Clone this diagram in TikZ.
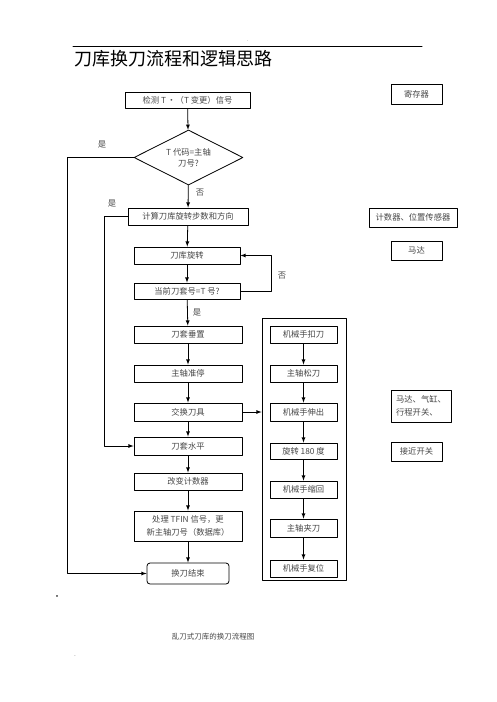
\documentclass[tikz,border=0pt]{standalone}
\usepackage{fontspec}
\setmainfont{Noto Sans CJK SC}
\usetikzlibrary{shapes.geometric}

\definecolor{textgray}{RGB}{70,70,70}

\tikzset{
  box/.style={draw,line width=0.8pt,minimum height=17,inner sep=1pt,
    font=\fontsize{8.3}{11}\selectfont,text=textgray},
  sidebox/.style={box,minimum width=51},
  lbl/.style={font=\fontsize{8.3}{10}\selectfont,text=textgray,inner sep=0pt},
  flow/.style={-latex,line width=0.8pt},
}

\begin{document}
\begin{tikzpicture}[x=1pt,y=-1pt,line cap=round,line join=round]
        \useasboundingbox (0,0) rectangle (496,702);

        % Titel
        \draw[line width=1pt] (73,46) -- (422,46);
        \node[inner sep=0pt] (mark) at (248,41) {\fontsize{4}{4}\selectfont .};
        \node[anchor=west,inner sep=0pt,font=\fontsize{18}{20}\selectfont] (title) at (74,59) {刀库换刀流程和逻辑思路};

        % Hauptspalte
        \node[box,minimum width=125,minimum height=16] (det) at (187.5,100) {检测 T\,•（T 变更）信号};
        \node[diamond,draw,line width=0.8pt,aspect=2,inner sep=0pt,minimum width=109,minimum height=55,
              align=center,font=\fontsize{8.3}{11}\selectfont,text=textgray] (dia) at (188.5,157.5) {T 代码=主轴\\刀号?};
        \node[box,minimum width=120] (calc) at (188,216.5) {计算刀库旋转步数和方向};
        \node[box,minimum width=106] (rot) at (187,255.5) {刀库旋转};
        \node[box,minimum width=106,minimum height=16] (cur) at (187,291) {当前刀套号=T 号?};
        \node[box,minimum width=108] (vert) at (188,334.5) {刀套垂置};
        \node[box,minimum width=108] (stop) at (188,373.5) {主轴准停};
        \node[box,minimum width=108,minimum height=18] (swap) at (188,412) {交换刀具};
        \node[box,minimum width=108,minimum height=18] (horz) at (188,446) {刀套水平};
        \node[box,minimum width=108] (cnt) at (188,481.5) {改变计数器};
        \node[box,minimum width=108,minimum height=30,align=center,font=\fontsize{8.3}{13}\selectfont] (tfin) at (188,526) {处理 TFIN 信号，更\\新主轴刀号（数据库）};
        \node[box,minimum width=82,minimum height=21,rounded corners=3pt] (endb) at (188,573.5) {换刀结束};

        % Greiferspalte
        \node[draw,line width=0.8pt,minimum width=84,minimum height=262,inner sep=0pt] (cont) at (304,449) {};
        \node[box,minimum width=67] (grab) at (303.5,334.5) {机械手扣刀};
        \node[box,minimum width=67] (loose) at (303.5,373.5) {主轴松刀};
        \node[box,minimum width=67,minimum height=18] (ext) at (303.5,412) {机械手伸出};
        \node[box,minimum width=67,minimum height=16] (turn) at (303.5,451) {旋转 180 度};
        \node[box,minimum width=67] (retr) at (303.5,489.5) {机械手缩回};
        \node[box,minimum width=67,minimum height=18] (clamp) at (303.5,528) {主轴夹刀};
        \node[box,minimum width=67] (reset) at (303.5,568.5) {机械手复位};

        % Bauteile rechts
        \node[sidebox,minimum height=20] (reg) at (416.5,94) {寄存器};
        \node[box,minimum width=88,minimum height=19] (sens) at (413,217.5) {计数器、位置传感器};
        \node[sidebox,minimum height=19] (motor) at (416.5,250.5) {马达};
        \node[box,minimum width=60,minimum height=32,align=left,font=\fontsize{8.3}{13}\selectfont] (act) at (421,406) {马达、气缸、\\行程开关、};
        \node[sidebox,minimum height=19] (prox) at (416.5,451.5) {接近开关};

        % Pfeile
        \draw[flow] (det) -- (dia);
        \draw[flow] (dia) -- (calc);
        \draw[flow] (calc) -- (rot);
        \draw[flow] (rot) -- (cur);
        \draw[flow] (cur) -- (vert);
        \draw[flow] (vert) -- (stop);
        \draw[flow] (stop) -- (swap);
        \draw[flow] (swap) -- (horz);
        \draw[flow] (horz) -- (cnt);
        \draw[flow] (cnt) -- (tfin);
        \draw[flow] (tfin) -- (endb);
        \draw[flow] (dia.west) -- (67,157.5) -- (67,573.5) -- (endb.west);
        \draw[flow] (calc.west) -- (104,216.5) -- (104,446) -- (horz.west);
        \draw[flow] (cur.east) -- (271,291) -- (271,255.5) -- (rot.east);
        \draw[flow] (swap.east) -- (swap.east -| cont.west);
        \draw[flow] (grab) -- (loose);
        \draw[flow] (loose) -- (ext);
        \draw[flow] (ext) -- (turn);
        \draw[flow] (turn) -- (retr);
        \draw[flow] (retr) -- (clamp);
        \draw[flow] (clamp) -- (reset);

        % Beschriftungen
        \node[lbl] (yes1) at (102,145) {是};
        \node[lbl] (no1) at (200,193) {否};
        \node[lbl] (yes2) at (112,204) {是};
        \node[lbl] (no2) at (282,276) {否};
        \node[lbl] (yes3) at (197,313) {是};

        \node[inner sep=0pt,font=\fontsize{8}{8}\selectfont] (dot1) at (57,598) {•};
        \node[inner sep=0pt,font=\fontsize{5}{5}\selectfont] (dot2) at (75,656) {.};
        \node[inner sep=0pt,font=\fontsize{7.5}{9}\selectfont,text=textgray] (cap) at (213,637) {乱刀式刀库的换刀流程图};
    \end{tikzpicture}
\end{document}
